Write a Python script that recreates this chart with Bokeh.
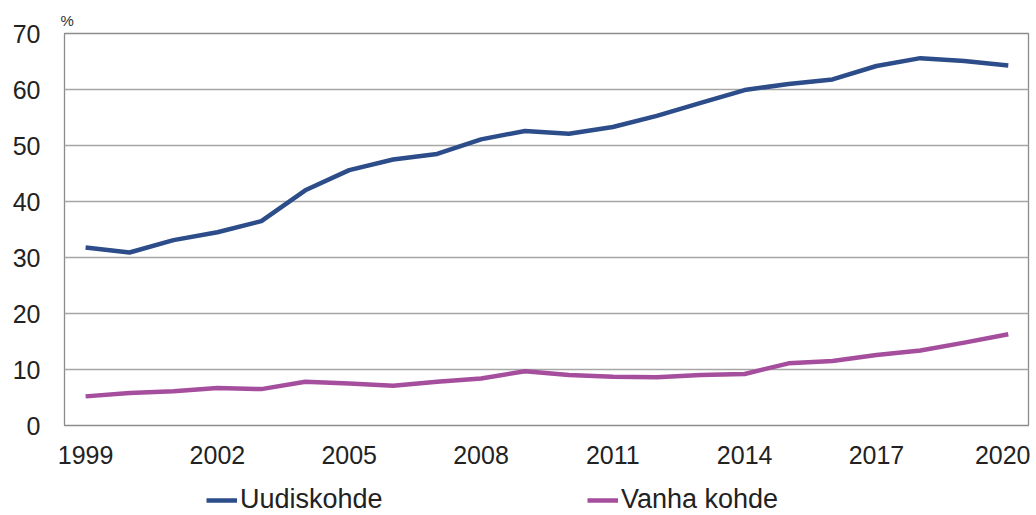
from bokeh.plotting import figure
from bokeh.layouts import column
from bokeh.models import Range1d, FixedTicker, Legend, LegendItem
from bokeh.embed import file_html
from bokeh.resources import INLINE

years = list(range(1999, 2021))
uudiskohde = [31.8, 30.9, 33.1, 34.5, 36.5, 42.0, 45.6, 47.5, 48.5, 51.1, 52.6,
              52.1, 53.3, 55.3, 57.6, 59.9, 61.0, 61.8, 64.2, 65.6, 65.1, 64.3]
vanha_kohde = [5.2, 5.8, 6.1, 6.7, 6.5, 7.8, 7.5, 7.1, 7.8, 8.4, 9.7,
               9.0, 8.7, 8.6, 9.0, 9.2, 11.1, 11.5, 12.6, 13.4, 14.8, 16.3]
x_ticks = [1999, 2002, 2005, 2008, 2011, 2014, 2017, 2020]
y_ticks = [0, 10, 20, 30, 40, 50, 60, 70]
series_names = ["Uudiskohde", "Vanha kohde"]

FONT = "Liberation Sans"
BLUE = "#2C4D8A"
PURPLE = "#A54E9D"
LW = 4.5

p = figure(width=1030, height=475, output_backend="svg", toolbar_location=None,
           x_range=Range1d(1998.52, 2020.46), y_range=Range1d(0, 70),
           min_border_left=64, min_border_right=2, min_border_top=33,
           min_border_bottom=50, title="%")

p.title.text_font = FONT
p.title.text_font_size = "15px"
p.title.text_font_style = "normal"
p.title.text_color = "#333333"
p.title.align = "left"
p.title.offset = -4
p.title.standoff = 10

p.outline_line_color = "#8C8C8C"
p.outline_line_width = 1.3
p.background_fill_color = "white"
p.border_fill_color = "white"

p.xgrid.grid_line_color = None
p.ygrid.grid_line_color = "#A6A6A6"
p.ygrid.grid_line_width = 1.5
p.ygrid.ticker = FixedTicker(ticks=y_ticks)

p.xaxis.ticker = FixedTicker(ticks=x_ticks)
p.yaxis.ticker = FixedTicker(ticks=y_ticks)
for ax in (p.xaxis, p.yaxis):
    ax.axis_line_color = None
    ax.major_tick_line_color = None
    ax.minor_tick_line_color = None
    ax.major_tick_out = 0
    ax.major_tick_in = 0
    ax.minor_tick_out = 0
    ax.major_label_text_font = FONT
    ax.major_label_text_font_size = "25px"
    ax.major_label_text_color = "#222222"
p.xaxis.major_label_standoff = 20
p.yaxis.major_label_standoff = 24

p.line(years, uudiskohde, line_color=BLUE, line_width=LW, line_join="round")
p.line(years, vanha_kohde, line_color=PURPLE, line_width=LW, line_join="round")

# legend strip below the chart (its own lines lie outside its range, only the key shows)
p2 = figure(width=1030, height=40, output_backend="svg", toolbar_location=None,
            x_axis_type=None, y_axis_type=None, min_border=0,
            x_range=Range1d(0, 1), y_range=Range1d(0, 1))
p2.outline_line_color = None
p2.xgrid.grid_line_color = None
p2.ygrid.grid_line_color = None
lr1 = p2.line(years, uudiskohde, line_color=BLUE, line_width=LW)
lr2 = p2.line(years, vanha_kohde, line_color=PURPLE, line_width=LW)

for r, name, xloc in ((lr1, series_names[0], 142), (lr2, series_names[1], 523)):
    lg = Legend(items=[LegendItem(label=name, renderers=[r])],
                location=(xloc, 0), orientation="horizontal",
                padding=0, margin=0, border_line_color=None,
                background_fill_alpha=0, glyph_width=31, glyph_height=20,
                label_height=20, label_standoff=3,
                label_text_font=FONT, label_text_font_size="27px",
                label_text_line_height=0.85,
                label_text_color="#222222")
    p2.add_layout(lg, "center")

layout = column(p, p2, spacing=0)
open("out.html", "w").write(file_html(layout, INLINE))
